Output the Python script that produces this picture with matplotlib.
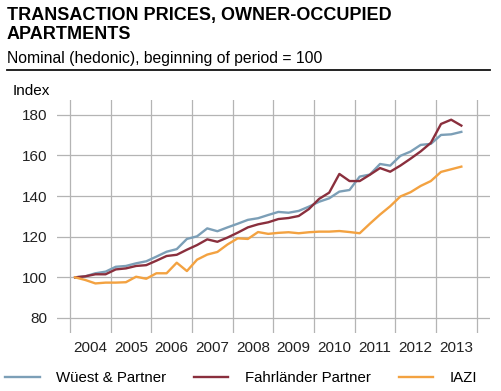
import numpy as np
import matplotlib
matplotlib.use('Agg')
import matplotlib.pyplot as plt

plt.rcParams['font.family'] = ['Liberation Sans', 'DejaVu Sans']

# quarterly index values, 2004 Q1 .. 2013 Q3
wuest = [100, 100.5, 102, 102.8, 105.2, 105.6, 106.9, 107.9, 110.2, 112.6,
         113.9, 118.9, 120.2, 124.1, 122.7, 124.6, 126.4, 128.3, 129.1, 130.7,
         132.2, 131.8, 132.7, 134.8, 137.2, 138.9, 142.2, 143, 149.6, 150.6,
         155.8, 155, 159.8, 161.9, 165.2, 165.7, 170.1, 170.4, 171.6]
fahrlaender = [100, 100.5, 101.5, 101.5, 103.9, 104.4, 105.6, 106, 108.2, 110.5,
               111.1, 113.6, 115.9, 118.7, 117.5, 119.6, 122, 124.6, 126.1, 127.1,
               128.7, 129.2, 130.2, 133.6, 138.6, 141.7, 150.9, 147.4, 147.4, 150.5,
               153.8, 152, 155, 158.4, 162, 166.2, 175.5, 177.6, 174.7]
iazi = [100, 98.7, 97, 97.4, 97.4, 97.6, 100.3, 99.3, 102, 102,
        107.2, 103.1, 108.7, 111.2, 112.5, 116.2, 119.2, 118.9, 122.3, 121.4,
        121.9, 122.2, 121.7, 122.2, 122.5, 122.5, 122.8, 122.3, 121.7, 126.4,
        130.9, 135, 139.8, 141.9, 145, 147.4, 151.9, 153.2, 154.5]
years = list(range(2004, 2014))
yticks = [80, 100, 120, 140, 160, 180]

# quarter midpoints
t = 2004.125 + 0.25 * np.arange(len(wuest))

fig = plt.figure(figsize=(5.01, 3.91), dpi=100)
ax = fig.add_axes([57 / 501, 1 - 333 / 391, 433 / 501, 233 / 391])

c_blue = '#7c9fb7'
c_red = '#8a2f3d'
c_orange = '#f3a241'
ax.plot(t, wuest, color=c_blue, lw=1.7, label='Wüest & Partner')
ax.plot(t, fahrlaender, color=c_red, lw=1.7, label='Fahrländer Partner')
ax.plot(t, iazi, color=c_orange, lw=1.7, label='IAZI')

ax.set_xlim(2003.68, 2014.33)
ax.set_ylim(72.6, 187.3)

ax.set_xticks(years + [2014])
ax.set_xticklabels([])
ax.set_xticks([y + 0.5 for y in years], minor=True)
ax.set_xticklabels([str(y) for y in years], minor=True, fontsize=11)
ax.set_yticks(yticks)
ax.set_yticklabels([str(v) for v in yticks], fontsize=11)
ax.tick_params(axis='both', which='both', length=0, colors='#222222')
ax.tick_params(axis='x', which='minor', pad=6)
ax.tick_params(axis='y', pad=7)
ax.grid(True, which='major', color='#b4b4b4', lw=0.9)
ax.set_axisbelow(True)
for s in ax.spines.values():
    s.set_visible(False)

fig.text(7 / 501, 1 - 20 / 391, 'TRANSACTION PRICES, OWNER-OCCUPIED',
         fontsize=13, fontweight='bold', va='baseline', ha='left')
fig.text(7 / 501, 1 - 39.3 / 391, 'APARTMENTS',
         fontsize=13, fontweight='bold', va='baseline', ha='left')
fig.text(7 / 501, 1 - 63 / 391, 'Nominal (hedonic), beginning of period = 100',
         fontsize=11.3, va='baseline', ha='left')
fig.add_artist(plt.Line2D([7 / 501, 490 / 501], [1 - 69.5 / 391] * 2,
                          color='#111111', lw=1.3))
fig.text(13 / 501, 1 - 95 / 391, 'Index', fontsize=11, va='baseline', ha='left')

fig.legend(loc='lower left', bbox_to_anchor=(5 / 501, 1 - 385 / 391), ncol=3,
           frameon=False, fontsize=10.8, handlelength=2.3, handletextpad=1.1,
           columnspacing=1.85, borderaxespad=0, borderpad=0)

fig.savefig('out.png', dpi=100)
